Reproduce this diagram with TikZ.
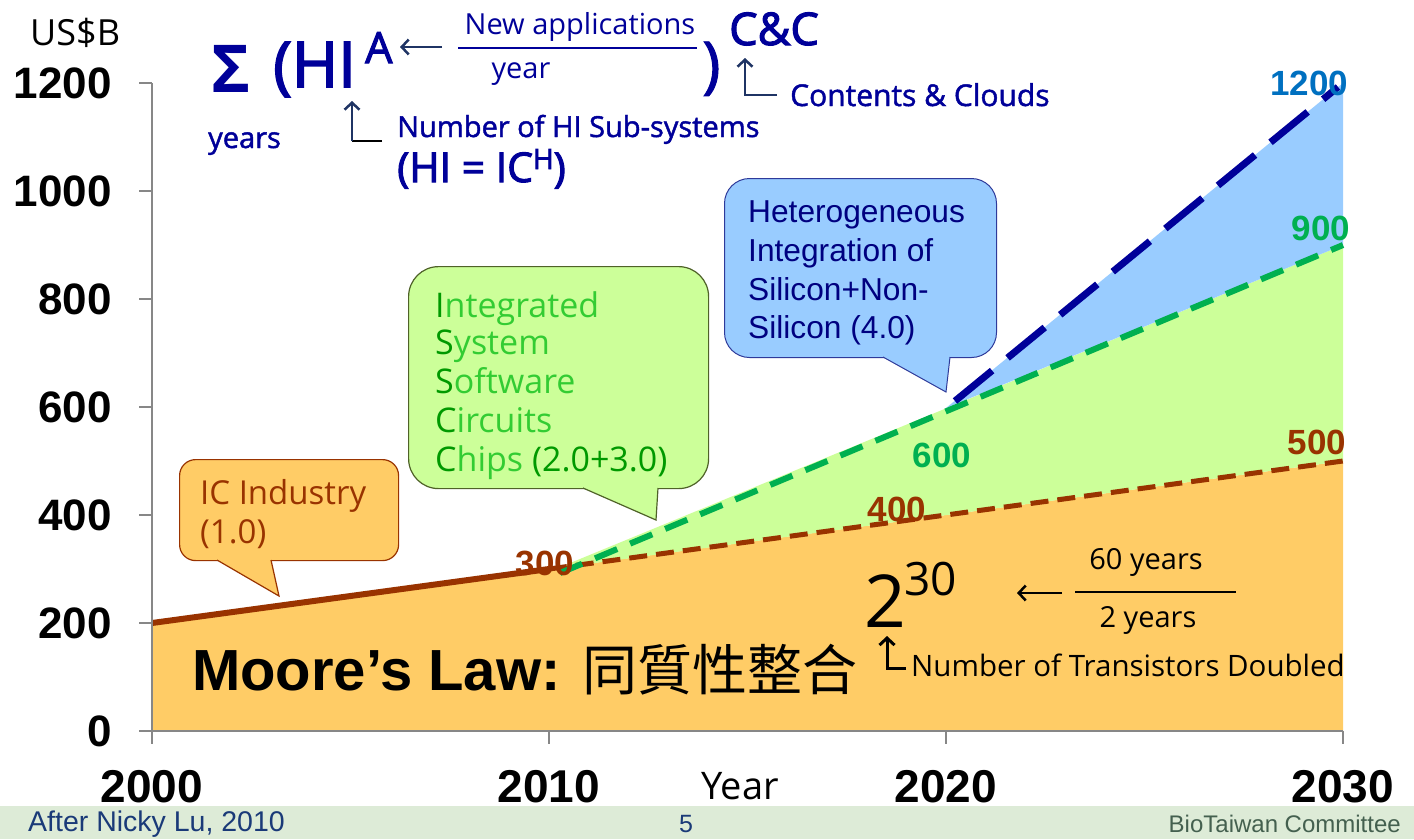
\documentclass[tikz,border=0pt]{standalone}
\usepackage{fontspec}
\usetikzlibrary{arrows.meta,calc}
\newfontfamily\arialf{Liberation Sans}
\newfontfamily\osf{Open Sans}
\newfontfamily\osm[FakeBold=1.5]{Open Sans}
\newfontfamily\osh[FakeBold=2.5]{Open Sans}
\newfontfamily\cjkf{Noto Sans CJK TC}
\newcommand\setfs[1]{\fontsize{#1}{#1}\selectfont}
\definecolor{orf}{HTML}{FFCC66}
\definecolor{grf}{HTML}{CCFF99}
\definecolor{blf}{HTML}{99CCFF}
\definecolor{brn}{HTML}{993300}
\definecolor{gln}{HTML}{00B050}
\definecolor{bln}{HTML}{000099}
\definecolor{lbl}{HTML}{0070C0}
\definecolor{navy}{HTML}{000099}
\definecolor{arrc}{HTML}{1F3464}
\definecolor{axc}{HTML}{878787}
\definecolor{barc}{HTML}{DDEBD7}
\definecolor{dkg}{HTML}{009900}
\definecolor{ltg}{HTML}{33CC33}
\definecolor{gbord}{HTML}{4F6228}
\definecolor{bbord}{HTML}{2E3A9A}
\definecolor{btxt}{HTML}{000080}
\definecolor{foot}{HTML}{1A3A78}
\definecolor{bio}{HTML}{44604F}
\tikzset{
  axis/.style={draw=axc, line width=2pt},
  ylab/.style={anchor=east, inner sep=0pt, font=\arialf\bfseries\setfs{44}},
  xlab/.style={inner sep=0pt, font=\arialf\bfseries\setfs{46}},
  dlab/.style={inner sep=0pt, font=\arialf\bfseries\setfs{35}},
  ftxt/.style={anchor=base west, inner sep=0pt, text=navy},
  farrow/.style={draw=arrc, line width=2.5pt, -{Straight Barb[length=7pt,width=15pt]}},
  karrow/.style={draw=black, line width=2.5pt, -{Straight Barb[length=7pt,width=15pt]}},
  cbox/.style={anchor=north west, inner sep=0pt, line width=1.2pt},
  ctxt/.style={anchor=base west, inner sep=0pt},
}
\begin{document}
\begin{tikzpicture}[x=1pt,y=-1pt]
\useasboundingbox (0,0) rectangle (1414,839);
% footer bar
\fill[barc] (0,806) rectangle (1414,839);
% data coordinates
\coordinate (o0) at (152,731);
\coordinate (o3) at (1343,731);
\coordinate (m0) at (152,623);
\coordinate (m1) at (549,569);
\coordinate (m3) at (1343,461);
\coordinate (g1) at (558,568);
\coordinate (g1s) at (560,573);
\coordinate (g3) at (1343,245);
\coordinate (b2) at (946,408);
\coordinate (b2s) at (955,401);
\coordinate (b3) at (1343,83);
\coordinate (b3s) at (1338,87);
% areas
\fill[orf] (o0) -- (m0) -- (m1) -- (m3) -- (o3) -- cycle;
\fill[grf] (g1) -- (g3) -- (m3) -- cycle;
\fill[blf] (b2) -- (b3) -- (g3) -- cycle;
% lines
\draw[brn, line width=6pt] (m0) -- (m1);
\draw[brn, line width=5pt, dash pattern=on 18pt off 9pt] (m1) -- (m3);
\draw[gln, line width=6pt, dash pattern=on 24pt off 14pt] (g1s) -- (g3);
\draw[bln, line width=7pt, dash pattern=on 48pt off 20pt] (b2s) -- (b3s);
% axes
\draw[axis] (152,83) -- (152,731) -- (1343,731);
\foreach \y in {83,191,299,407,515,623,731} \draw[axis] (139,\y) -- (152,\y);
\foreach \x in {152,549,946,1343} \draw[axis] (\x,731) -- (\x,744);
% axis labels
\foreach \v/\y in {0/731,200/623,400/515,600/407,800/299,1000/191,1200/83}
  \node[ylab] (y\v) at (112,\y) {\v};
\foreach \v/\x in {2000/152,2010/549,2020/946,2030/1343}
  \node[xlab] (x\v) at (\x,787) {\v};
\node[inner sep=0pt, anchor=base, font=\osf\setfs{38}] (yearlab) at (740,799) {Year};
\node[inner sep=0pt, anchor=base west, font=\osf\setfs{36}] (usb) at (30,45) {US\$B};
% data labels
\node[dlab, text=brn] (l300) at (545,563) {300};
\node[dlab, text=brn] (l400) at (897,509) {400};
\node[dlab, text=brn] (l500) at (1317,442) {500};
\node[dlab, text=gln] (l600) at (942,455) {600};
\node[dlab, text=gln] (l900) at (1321,228) {900};
\node[dlab, text=lbl] (l1200) at (1309,83) {1200};
% Moore's law
\node[anchor=base west, inner sep=0pt] (moore) at (192,690)
  {\arialf\bfseries\setfs{58}Moore’s Law: {\cjkf\mdseries\setfs{55}同質性整合}};
% 2^30
\node[anchor=base west, inner sep=0pt, font=\osf\setfs{73}] (two) at (864,627) {2};
\node[anchor=base west, inner sep=0pt, font=\osf\setfs{46}] (thirty) at (904,595) {30};
\coordinate (ta1) at (1062,593);
\coordinate (ta2) at (1017,593);
\draw[karrow] (ta1) -- (ta2);
\coordinate (fl1) at (1075,592);
\coordinate (fl2) at (1236,592);
\draw[black, line width=2pt] (fl1) -- (fl2);
\node[anchor=base, inner sep=0pt, font=\osf\setfs{29}] (sixty) at (1146,569) {60 years};
\node[anchor=base, inner sep=0pt, font=\osf\setfs{29}] (twoy) at (1148,627) {2 years};
\coordinate (tu1) at (906,668);
\coordinate (tu2) at (887,668);
\coordinate (tu3) at (887,636);
\draw[karrow, line width=3pt] (tu1) -- (tu2) -- (tu3);
\node[anchor=base west, inner sep=0pt, font=\osf\setfs{29.5}] (ntd) at (911,676) {Number of Transistors Doubled};
% formula
\node[ftxt, font=\osf\bfseries\setfs{66}] (sigma) at (211,92) {Σ};
\node[ftxt, font=\osh\setfs{63}] (hi) at (273,87) {(HI};
\node[ftxt, font=\osh\setfs{43}] (supA) at (365,63) {A};
\coordinate (fa1) at (442,47);
\coordinate (fa2) at (400,47);
\draw[farrow] (fa1) -- (fa2);
\node[ftxt, anchor=base, font=\osf\setfs{29}] (newapp) at (580,34) {New applications};
\coordinate (fr1) at (458,48);
\coordinate (fr2) at (697,48);
\draw[navy, line width=2pt] (fr1) -- (fr2);
\node[ftxt, anchor=base, font=\osf\setfs{29}] (yr) at (521,78) {year};
\node[ftxt, font=\osm\setfs{62}] (rpar) at (702,86) {)};
\node[ftxt, font=\osh\setfs{45}] (cc) at (729,45) {C\&C};
\coordinate (ca1) at (777,95);
\coordinate (ca2) at (745,95);
\coordinate (ca3) at (745,58);
\draw[farrow] (ca1) -- (ca2) -- (ca3);
\node[ftxt, font=\osm\setfs{30}] (cnc) at (790,106) {Contents \& Clouds};
\node[ftxt, font=\osm\setfs{29}] (yrs) at (208,148) {years};
\coordinate (na1) at (382,141);
\coordinate (na2) at (352,141);
\coordinate (na3) at (352,101);
\draw[black, line width=2.5pt] (na1) -- (na2);
\draw[farrow] (na2) -- (na3);
\node[ftxt, font=\osm\setfs{29}] (nhi) at (397,137) {Number of HI Sub-systems};
\node[ftxt, font=\osh\setfs{41}] (hiic) at (397,182)
  {(HI = IC\raisebox{13pt}{\setfs{28}H})};
% IC Industry callout
\node[cbox, draw=brn, fill=orf, rounded corners=16pt, minimum width=219pt, minimum height=101pt] (icbox) at (179,459) {};
\coordinate (ict1) at (217,560);
\coordinate (ictip) at (279,596);
\coordinate (ict2) at (271,560);
\fill[orf] (ictip) -- ($(ictip)!1.15!(ict1)$) -- ($(ictip)!1.15!(ict2)$) -- cycle;
\draw[brn, line width=1.2pt, line join=miter] (ict1) -- (ictip) -- (ict2);
\node[ctxt, text=brn, font=\osf\setfs{33}] (ic1) at (200,504) {IC Industry};
\node[ctxt, text=brn, font=\osf\setfs{33}] (ic2) at (200,543) {(1.0)};
% Green callout
\node[cbox, draw=gbord, fill=grf, rounded corners=30pt, minimum width=300pt, minimum height=222pt] (gbox) at (408,266) {};
\coordinate (gt1) at (583,488);
\coordinate (gtip) at (656,520);
\coordinate (gt2) at (658,488);
\fill[grf] (gtip) -- ($(gtip)!1.15!(gt1)$) -- ($(gtip)!1.15!(gt2)$) -- cycle;
\draw[gbord, line width=1.2pt] (gt1) -- (gtip) -- (gt2);
\node[ctxt, text=ltg, font=\osf\setfs{34}] (gl1) at (435,317) {\textcolor{dkg}{I}ntegrated};
\node[ctxt, text=ltg, font=\osf\setfs{34}] (gl2) at (435,354) {\textcolor{dkg}{S}ystem};
\node[ctxt, text=ltg, font=\osf\setfs{34}] (gl3) at (435,393) {\textcolor{dkg}{S}oftware};
\node[ctxt, text=ltg, font=\osf\setfs{34}] (gl4) at (435,432) {\textcolor{dkg}{C}ircuits};
\node[ctxt, text=ltg, font=\osf\setfs{34}] (gl5) at (435,471) {\textcolor{dkg}{C}hips \textcolor{dkg}{(2.0+3.0)}};
% Blue callout
\node[cbox, draw=bbord, fill=blf, rounded corners=25pt, line width=1pt, minimum width=272pt, minimum height=179pt] (bbox) at (724,178) {};
\coordinate (bt1) at (883,357);
\coordinate (btip) at (946,392);
\coordinate (bt2) at (950,357);
\fill[blf] (btip) -- ($(btip)!1.15!(bt1)$) -- ($(btip)!1.15!(bt2)$) -- cycle;
\draw[bbord, line width=1pt] (bt1) -- (btip) -- (bt2);
\node[ctxt, text=btxt, font=\arialf\setfs{31.7}] (bl1) at (748,222) {Heterogeneous};
\node[ctxt, text=btxt, font=\arialf\setfs{31.7}] (bl2) at (748,261) {Integration of};
\node[ctxt, text=btxt, font=\arialf\setfs{31.7}] (bl3) at (748,300) {Silicon+Non-};
\node[ctxt, text=btxt, font=\arialf\setfs{31.7}] (bl4) at (748,338) {Silicon (4.0)};
% footer texts
\node[anchor=base west, inner sep=0pt, text=foot, font=\arialf\setfs{28.5}] (after) at (28,831) {After Nicky Lu, 2010};
\node[anchor=base, inner sep=0pt, text=foot, font=\arialf\setfs{25}] (pg) at (686,832) {5};
\node[anchor=base east, inner sep=0pt, text=bio, font=\arialf\setfs{24}] (biot) at (1401,832) {BioTaiwan Committee};
\end{tikzpicture}
\end{document}
